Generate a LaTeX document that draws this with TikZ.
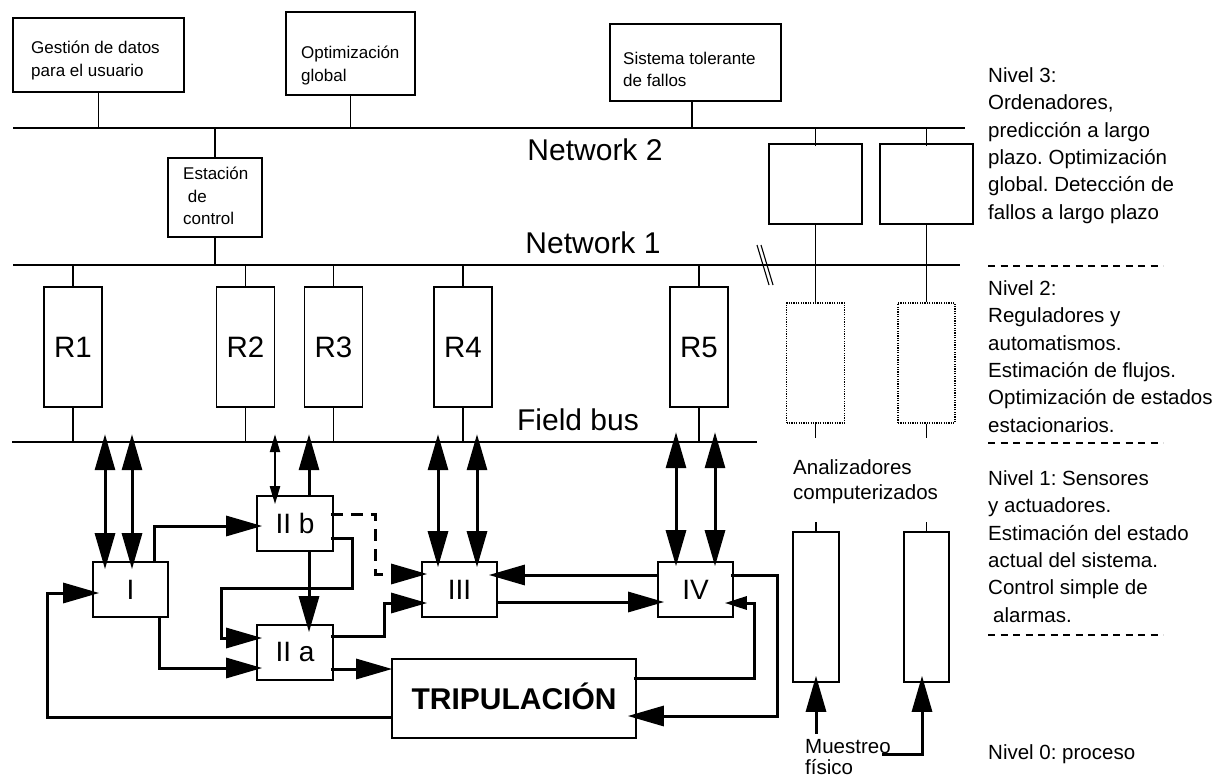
\documentclass[tikz,border=0pt]{standalone}
\usepackage{fontspec}
\setmainfont{Liberation Sans}
\usetikzlibrary{arrows.meta,calc}
\frenchspacing
\begin{document}
\frenchspacing
\begin{tikzpicture}[x=1pt,y=-1pt,
  bx/.style={draw,line width=1.6pt,inner sep=0pt},
  dbx/.style={draw,line width=1.2pt,dash pattern=on 1.2pt off 1.2pt,inner sep=0pt},
  ln/.style={line width=1.6pt},
  dar/.style={line width=3pt,{Triangle[length=36pt,width=20pt]}-{Triangle[length=36pt,width=20pt]}},
  sar/.style={line width=3pt,-{Triangle[length=36pt,width=20pt]}},
  mar/.style={line width=3pt,-{Triangle[length=22pt,width=13pt]}},
  tdar/.style={line width=2.2pt,{Triangle[length=18pt,width=10pt]}-{Triangle[length=18pt,width=10pt]}},
  sepl/.style={line width=1.5pt,dash pattern=on 7pt off 5.5pt},
  t17/.style={font=\fontsize{17pt}{23pt}\selectfont,align=left,inner sep=0pt,anchor=north west},
  t20/.style={font=\fontsize{20.5pt}{27.3pt}\selectfont,align=left,inner sep=0pt,anchor=north west},
  t30/.style={font=\fontsize{30pt}{36pt}\selectfont,inner sep=0pt},
  lab/.style={font=\fontsize{28pt}{34pt}\selectfont},
  rl/.style={font=\fontsize{29.5pt}{34pt}\selectfont}
]
\useasboundingbox (0,0) rectangle (1218,778);

% top boxes
\node[bx,minimum width=171pt,minimum height=74pt] (gest) at (98.5,55) {};
\node[t17] (gestt) at (31,41) {Gestión de datos\\para el usuario};
\node[bx,minimum width=129pt,minimum height=83pt] (optg) at (350.5,53.5) {};
\node[t17] (optgt) at (301,46) {Optimización\\global};
\node[bx,minimum width=171pt,minimum height=77pt] (sist) at (695.5,62.5) {};
\node[t17,font=\fontsize{17pt}{22pt}\selectfont] (sistt) at (623,52) {Sistema tolerante\\de fallos};
\node[bx,minimum width=94pt,minimum height=79pt] (est) at (215,197.5) {};
\node[t17,font=\fontsize{17pt}{22.5pt}\selectfont] (estt) at (183,167) {Estación\\\hspace*{4.7pt}de\\control};

% buses
\coordinate (n2w) at (13,128); \coordinate (n2e) at (965,128);
\coordinate (n1w) at (13,265); \coordinate (n1e) at (960,265);
\coordinate (fbw) at (12,442); \coordinate (fbe) at (757,442);
\draw[ln] (n2w) -- (n2e);
\draw[ln] (n1w) -- (n1e);
\draw[ln] (fbw) -- (fbe);
\node[t30] (net2) at (595,150) {Network 2};
\node[t30] (net1) at (593,243) {Network 1};
\node[t30] (fbus) at (578,420) {Field bus};

\draw[ln] (gest.south) -- (gest.south |- n2w);
\draw[ln] (optg.south) -- (optg.south |- n2w);
\draw[ln] ($(sist.south)+(-3.5,0)$) -- ($(sist.south |- n2w)+(-3.5,0)$);
\draw[ln] (est.north) -- (est.north |- n2w);
\draw[ln] (est.south) -- (est.south |- n1w);

% computers, level 3 and dotted boxes
\node[bx,minimum width=93pt,minimum height=80pt] (c1) at (815.5,184) {};
\node[bx,minimum width=93pt,minimum height=80pt] (c2) at (926.5,184) {};
\node[dbx,minimum width=58pt,minimum height=120pt] (d1) at (815.5,363) {};
\node[dbx,minimum width=57pt,minimum height=120pt] (d2) at (926.5,363) {};
\foreach \c/\d in {c1/d1,c2/d2}{
  \draw[ln] ($(\c.north)+(0,3)$) -- (\c.north |- n2w);
  \draw[ln] (\c.south) -- (\c.south |- \d.north);
  \draw[ln] (\d.south) -- ++(0,14);
}
\draw[line width=1.1pt] (757,245) -- (769,285);
\draw[line width=1.1pt] (761,245) -- (773,285);

% R boxes
\foreach \n/\x in {R1/73,R2/245.5,R3/333.5,R4/463,R5/699}{
  \node[bx,rl,minimum width=58pt,minimum height=120pt] (\n) at (\x,347) {\n};
  \draw[ln] (\n.north) -- (\n.north |- n1w);
  \draw[ln] (\n.south) -- (\n.south |- fbw);
}

% analyzers
\node[bx,minimum width=46pt,minimum height=150pt] (a1) at (816,607) {};
\node[bx,minimum width=45pt,minimum height=150pt] (a2) at (926.5,607) {};
\draw[ln] ($(a1.north)+(0,-9)$) -- ($(a1.north)+(0,2)$);
\draw[ln] ($(a2.north)+(0,-9)$) -- ($(a2.north)+(0,2)$);
\node[t20,font=\fontsize{20.5pt}{25pt}\selectfont] (anat) at (793,459.5) {Analizadores\\computerizados};
\node[t20,font=\fontsize{20.5pt}{21pt}\selectfont] (muest) at (805,739) {Muestreo\\físico};
\draw[sar] ($(a1.south)+(0,51)$) -- ($(a1.south)+(0,-7)$);
\draw[sar] ($(a2.south)+(-44.5,72)$) -| ($(a2.south)+(-4.5,-7)$);

% process boxes
\node[bx,lab,minimum width=75pt,minimum height=55pt] (I) at (130.5,589.5) {I};
\node[bx,lab,minimum width=76pt,minimum height=55pt] (IIb) at (295,523.5) {II b};
\node[bx,lab,minimum width=76pt,minimum height=55pt] (IIa) at (295,652.5) {II a};
\node[bx,lab,minimum width=75pt,minimum height=55pt] (III) at (459.5,589.5) {III};
\node[bx,lab,minimum width=75pt,minimum height=55pt] (IV) at (695.5,589.5) {IV};
\node[bx,font=\fontsize{30pt}{36pt}\selectfont\bfseries,text height=22pt,text depth=0pt,minimum width=244pt,minimum height=79pt] (trip) at (514,698.5) {TRIPULACIÓN};

% field bus arrows
\draw[dar] ($(I.north)+(-25.5,8)$) -- ($(I.north)+(-25.5,-127)$);
\draw[dar] ($(I.north)+(1.5,8)$) -- ($(I.north)+(1.5,-127)$);
\draw[tdar] ($(IIb.north)+(-20,9)$) -- ($(IIb.north)+(-20,-61)$);
\draw[sar] ($(IIb.north)+(14,2)$) -- ($(IIb.north)+(14,-61)$);
\draw[dar] ($(III.north)+(-21.5,6)$) -- ($(III.north)+(-21.5,-127)$);
\draw[dar] ($(III.north)+(17.5,6)$) -- ($(III.north)+(17.5,-127)$);
\draw[dar] ($(IV.north)+(-19.5,5)$) -- ($(IV.north)+(-19.5,-129)$);
\draw[dar] ($(IV.north)+(19.5,5)$) -- ($(IV.north)+(19.5,-129)$);

% internal connectors
\draw[sar] ($(I.north east)+(-14,0)$) |- ($(IIb.west)+(6,2.5)$);
\draw[sar] ($(I.south east)+(-9,0)$) |- ($(IIa.west)+(6,15.5)$);
\draw[sar] ($(trip.west)+(0,18.5)$) -| ($(I.west)+(-45,3.5)$) -- ($(I.west)+(7,3.5)$);
\draw[sar] ($(IIb.south)+(14,0)$) -- ($(IIa.north)+(14,8)$);
\draw[sar] ($(IIb.east)+(-3,14.5)$) -- ++(22,0) |- ($(IIa.west)+(-35,-64.5)$) |- ($(IIa.west)+(6,-14.5)$);
\draw[sar,dash pattern=on 12pt off 8pt] ($(IIb.east)+(-3,-9.5)$) -- ++(45,0) |- ($(III.west)+(6,-15.5)$);
\draw[sar] ($(IIa.east)+(-3,-16.5)$) -- ++(54,0) |- ($(III.west)+(6,13.5)$);
\draw[sar] ($(IIa.east)+(-3,16.5)$) -- ($(trip.west |- IIa.east)+(1,16.5)$);
\draw[sar] ($(IV.west)+(0,-14.5)$) -- ($(III.east)+(-9,-14.5)$);
\draw[sar] ($(III.east)+(-2,12.5)$) -- ($(IV.west)+(7,12.5)$);
\draw[sar] ($(IV.east)+(-3,-14.5)$) -- ++(47,0) |- ($(trip.east)+(-9,17.5)$);
\draw[mar] ($(trip.east)+(-3,-20.5)$) -- ++(121,0) |- ($(IV.east)+(-9,13.5)$);

% level texts
\node[t20] (niv3) at (988,67.5) {Nivel 3:\\Ordenadores,\\predicción a largo\\plazo. Optimización\\global. Detección de\\fallos a largo plazo};
\draw[sepl] (988,266) -- (1163,266);
\node[t20] (niv2) at (988,280.5) {Nivel 2:\\Reguladores y\\automatismos.\\Estimación de flujos.\\Optimización de estados\\estacionarios.};
\draw[sepl] (988,443) -- (1163,443);
\node[t20] (niv1) at (988,470.5) {Nivel 1: Sensores\\y actuadores.\\Estimación del estado\\actual del sistema.\\Control simple de\\\hspace*{5pt}alarmas.};
\draw[sepl] (988,635) -- (1163,635);
\node[t20] (niv0) at (988,744.5) {Nivel 0: proceso};
\end{tikzpicture}
\end{document}
